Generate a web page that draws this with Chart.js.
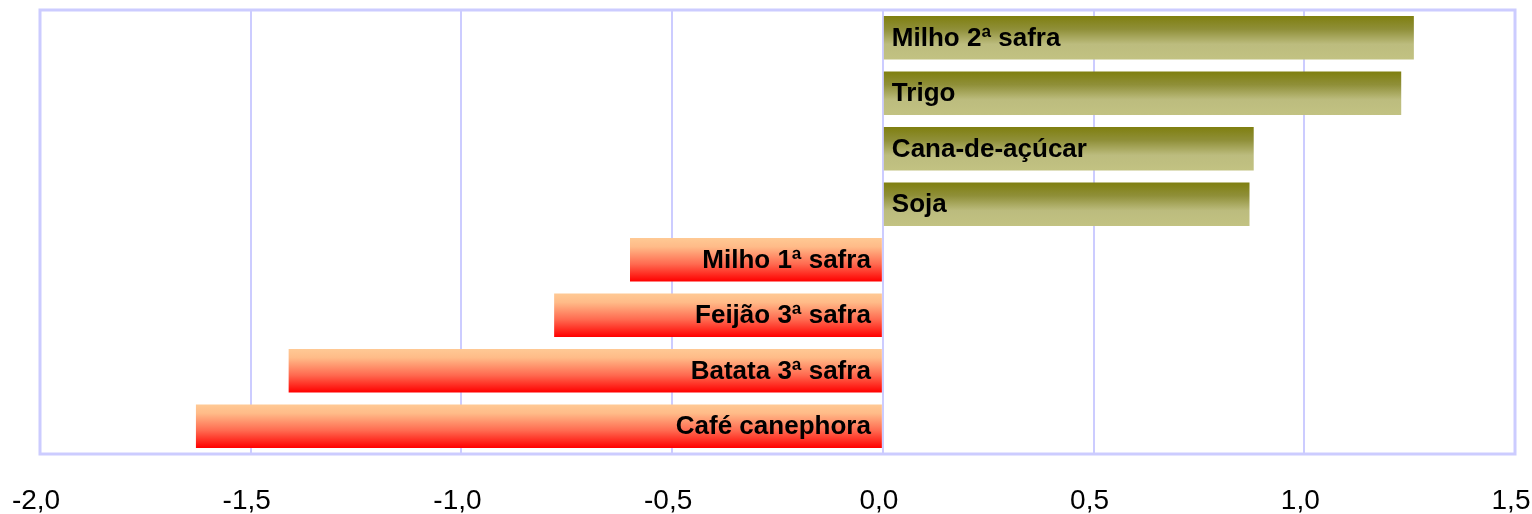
<!DOCTYPE html>
<html>
<head>
<meta charset="utf-8">
<script src="https://cdn.jsdelivr.net/npm/chart.js@4/dist/chart.umd.min.js"></script>
<style>
  html, body { margin: 0; padding: 0; background: #fff; }
  #wrap { width: 1532px; height: 514px; position: relative; }
</style>
</head>
<body>
<div id="wrap"><canvas id="chart"></canvas></div>
<script>
// Crops, top to bottom
const categories = [
    'Milho 2ª safra',
    'Trigo',
    'Cana-de-açúcar',
    'Soja',
    'Milho 1ª safra',
    'Feijão 3ª safra',
    'Batata 3ª safra',
    'Café canephora'
];
const values = [1.26, 1.23, 0.88, 0.87, -0.60, -0.78, -1.41, -1.63];
const xTicks = [-2.0, -1.5, -1.0, -0.5, 0.0, 0.5, 1.0, 1.5];

const GRID = '#ccccff';
const BAR_PCT = 0.78;
const FONT = '"Liberation Sans", Arial, sans-serif';

// Per-bar vertical gradient, built from the y scale position of the bar
function barGradient(ctx) {
    const chart = ctx.chart;
    const yScale = chart.scales.y;
    if (!chart.chartArea || !yScale) return values[ctx.dataIndex] >= 0 ? '#a0a050' : '#ff8060';
    const yc = yScale.getPixelForValue(ctx.dataIndex);
    const h = (chart.chartArea.bottom - chart.chartArea.top) / categories.length * BAR_PCT;
    const g = chart.ctx.createLinearGradient(0, yc - h / 2, 0, yc + h / 2);
    if (values[ctx.dataIndex] >= 0) {
        g.addColorStop(0, '#7f7f10');
        g.addColorStop(0.3, '#8f8f38');
        g.addColorStop(0.65, '#bcbc7e');
        g.addColorStop(1, '#c2c282');
    } else {
        g.addColorStop(0, '#ffc994');
        g.addColorStop(0.2, '#ffbb88');
        g.addColorStop(0.6, '#ff6a50');
        g.addColorStop(1, '#ff0000');
    }
    return g;
}

// Frame round the plot area
const frame = {
    id: 'frame',
    beforeDatasetsDraw(chart) {
        const { ctx, chartArea: a } = chart;
        ctx.save();
        ctx.strokeStyle = GRID;
        ctx.lineWidth = 3;
        ctx.strokeRect(a.left, a.top, a.right - a.left, a.bottom - a.top);
        ctx.restore();
    }
};

// Category names written inside the bars, next to zero
const barNames = {
    id: 'barNames',
    afterDatasetsDraw(chart) {
        const { ctx } = chart;
        const meta = chart.getDatasetMeta(0);
        ctx.save();
        ctx.font = 'bold 26px ' + FONT;
        ctx.fillStyle = '#000';
        ctx.textBaseline = 'middle';
        meta.data.forEach((bar, i) => {
            if (values[i] >= 0) {
                ctx.textAlign = 'left';
                ctx.fillText(categories[i], bar.base + 8, bar.y + 1);
            } else {
                ctx.textAlign = 'right';
                ctx.fillText(categories[i], bar.base - 11, bar.y + 1);
            }
        });
        ctx.restore();
    }
};

new Chart(document.getElementById('chart'), {
    type: 'bar',
    data: {
        labels: categories,
        datasets: [{
            data: values,
            backgroundColor: barGradient,
            borderWidth: 0,
            barPercentage: BAR_PCT,
            categoryPercentage: 1
        }]
    },
    options: {
        indexAxis: 'y',
        responsive: true,
        maintainAspectRatio: false,
        animation: false,
        layout: { padding: { left: 40, right: 17, top: 10, bottom: 0 } },
        plugins: {
            legend: { display: false },
            tooltip: { enabled: false }
        },
        scales: {
            x: {
                min: -2,
                max: 1.5,
                afterBuildTicks: (s) => { s.ticks = xTicks.map(v => ({ value: v })); },
                afterFit: (s) => {
                    s.height = 60;
                    s.paddingLeft = 0;
                    s.paddingRight = 0;
                },
                grid: { color: GRID, lineWidth: 2, drawTicks: false },
                border: { display: false },
                ticks: {
                    color: '#000',
                    padding: 30,
                    labelOffset: -4,
                    maxRotation: 0,
                    autoSkip: false,
                    font: { family: FONT, size: 28 },
                    callback: (v) => Number(v).toFixed(1).replace('.', ',')
                }
            },
            y: {
                display: false
            }
        }
    },
    plugins: [frame, barNames]
});
</script>
</body>
</html>
